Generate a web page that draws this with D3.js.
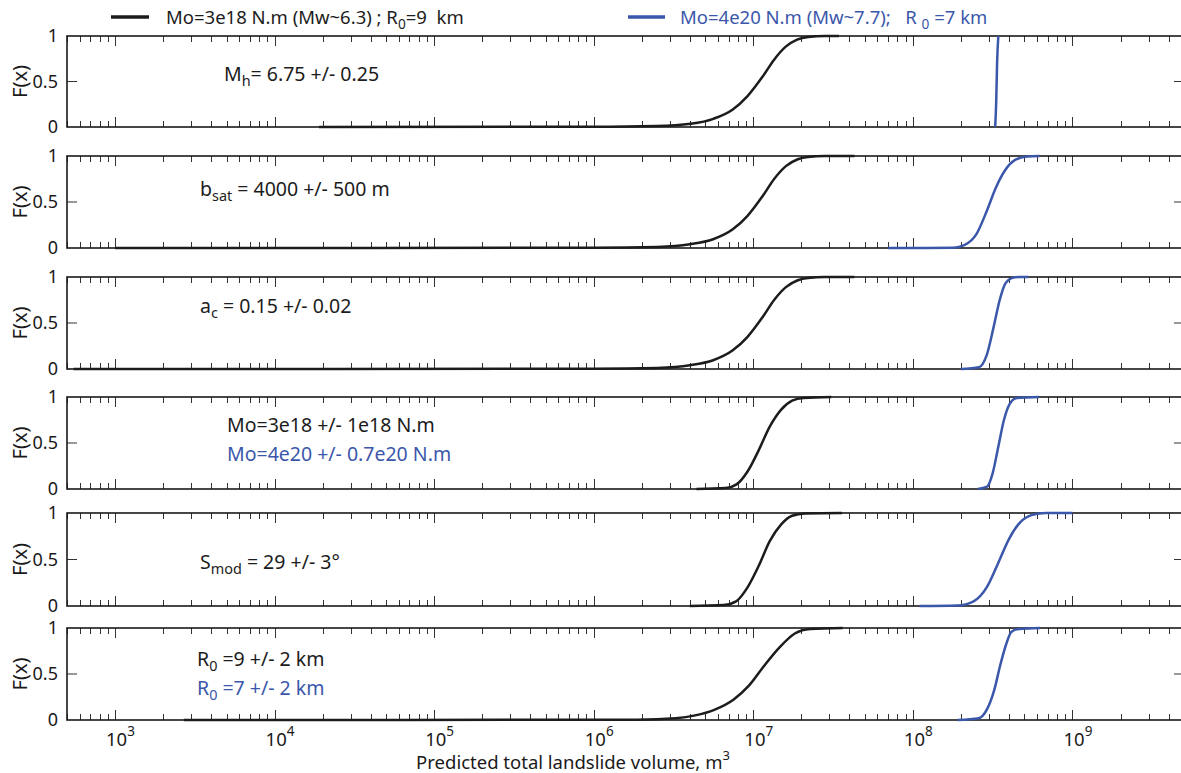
<!DOCTYPE html>
<html>
<head>
<meta charset="utf-8">
<script src="https://cdn.jsdelivr.net/npm/d3@7"></script>
<style>
  body { margin: 0; background: #fff; }
  svg { display: block; }
  text { font-family: "Noto Sans", sans-serif; fill: #1a1a1a; white-space: pre; }
</style>
</head>
<body>
<svg id="chart" width="1181" height="773"></svg>
<script>
// volume (m^3), F(x) pairs, one pair of curves per panel
const black1 = [[1.9e4, 0], [1.0e6, 0.002], [2.47e6, 0.01], [4.05e6, 0.036], [5.62e6, 0.09], [7.4e6, 0.19], [9.2e6, 0.34], [1.15e7, 0.56], [1.35e7, 0.74], [1.59e7, 0.88], [1.88e7, 0.96], [2.21e7, 0.99], [2.8e7, 1], [3.44e7, 1]];
const blue1 = [[3.28e8, 0], [3.33e8, 0.3], [3.37e8, 0.7], [3.43e8, 1]];
const black2 = [[1.0e3, 0], [1.0e6, 0.003], [2.5e6, 0.012], [4.0e6, 0.04], [5.6e6, 0.095], [7.4e6, 0.2], [9.2e6, 0.35], [1.15e7, 0.57], [1.35e7, 0.75], [1.6e7, 0.89], [1.9e7, 0.965], [2.2e7, 0.99], [2.8e7, 1], [4.3e7, 1]];
const blue2 = [[7.0e7, 0], [1.8e8, 0.002], [2.1e8, 0.03], [2.5e8, 0.15], [2.9e8, 0.4], [3.3e8, 0.65], [3.8e8, 0.85], [4.4e8, 0.96], [5.2e8, 0.995], [6.2e8, 1]];
const black3 = [[5.5e2, 0], [1.0e6, 0.003], [2.5e6, 0.012], [4.0e6, 0.04], [5.6e6, 0.095], [7.4e6, 0.2], [9.2e6, 0.35], [1.15e7, 0.57], [1.35e7, 0.75], [1.6e7, 0.89], [1.9e7, 0.965], [2.2e7, 0.99], [2.8e7, 1], [4.3e7, 1]];
const blue3 = [[2.0e8, 0], [2.6e8, 0.02], [2.9e8, 0.15], [3.2e8, 0.45], [3.5e8, 0.75], [3.8e8, 0.93], [4.2e8, 0.99], [4.6e8, 1], [5.3e8, 1]];
const black4 = [[4.4e6, 0], [6.7e6, 0.01], [7.85e6, 0.05], [9.2e6, 0.19], [1.08e7, 0.42], [1.27e7, 0.68], [1.49e7, 0.86], [1.75e7, 0.96], [2.06e7, 0.99], [3.08e7, 1]];
const blue4 = [[2.55e8, 0], [2.92e8, 0.025], [3.16e8, 0.17], [3.43e8, 0.46], [3.72e8, 0.75], [4.03e8, 0.92], [4.48e8, 0.99], [6.18e8, 1]];
const black5 = [[4.0e6, 0], [6.5e6, 0.01], [7.8e6, 0.05], [9.2e6, 0.2], [1.08e7, 0.43], [1.27e7, 0.7], [1.5e7, 0.88], [1.75e7, 0.97], [2.1e7, 0.995], [3.6e7, 1]];
const blue5 = [[1.1e8, 0], [1.9e8, 0.005], [2.4e8, 0.05], [2.9e8, 0.2], [3.4e8, 0.45], [4.0e8, 0.72], [4.7e8, 0.9], [5.6e8, 0.98], [6.8e8, 1], [1.0e9, 1]];
const black6 = [[2.7e3, 0], [1.88e6, 0.004], [3.27e6, 0.02], [4.32e6, 0.05], [5.69e6, 0.11], [7.5e6, 0.22], [9.35e6, 0.37], [1.17e7, 0.59], [1.46e7, 0.79], [1.82e7, 0.94], [2.27e7, 0.99], [3.63e7, 1]];
const blue6 = [[1.91e8, 0], [2.59e8, 0.02], [2.9e8, 0.11], [3.24e8, 0.33], [3.52e8, 0.59], [3.82e8, 0.81], [4.15e8, 0.96], [4.63e8, 0.99], [6.28e8, 1]];

const blackSeries = [black1, black2, black3, black4, black5, black6];
const blueSeries = [blue1, blue2, blue3, blue4, blue5, blue6];

const yTicks = [0, 0.5, 1];
const xTickExps = [3, 4, 5, 6, 7, 8, 9];

// text inside each panel: [series, [[text, isSub], ...]]
const notes = [
  [["black", [["M", 0], ["h", 1], ["= 6.75 +/- 0.25", 0]]]],
  [["black", [["b", 0], ["sat", 1], [" = 4000 +/- 500 m", 0]]]],
  [["black", [["a", 0], ["c", 1], [" = 0.15 +/- 0.02", 0]]]],
  [["black", [["Mo=3e18 +/- 1e18 N.m", 0]]], ["blue", [["Mo=4e20 +/- 0.7e20 N.m", 0]]]],
  [["black", [["S", 0], ["mod", 1], [" = 29 +/- 3°", 0]]]],
  [["black", [["R", 0], ["0", 1], [" =9 +/- 2 km", 0]]], ["blue", [["R", 0], ["0", 1], [" =7 +/- 2 km", 0]]]]
];
const legendItems = [
  ["black", [["Mo=3e18 N.m (Mw~6.3) ; R", 0], ["0", 1], ["=9  km", 0]]],
  ["blue", [["Mo=4e20 N.m (Mw~7.7);   R ", 0], ["0", 1], [" =7 km", 0]]]
];

const colors = { black: "#1c1c1c", blue: "#3b57aa" };
const noteX = [224, 200, 200, 227, 200, 197];
const noteY = [[81], [196], [313], [432, 461], [569], [666, 695]];
const legendX = [[111, 149, 166], [628, 665, 680]];

const svg = d3.select("#chart");
const tops = [36, 156, 277, 397, 513, 628];
const bottoms = [127, 248, 369, 489, 606, 720];

const x = d3.scaleLog().domain([5e2, 5e9]).range([67, 1184]);

const minorVals = [];
for (let e = 2; e <= 9; e++) {
  for (let m = 1; m <= 9; m++) {
    const v = m * Math.pow(10, e);
    if (v >= 5e2 && v <= 5e9) minorVals.push({ v, major: m === 1 });
  }
}

function richText(sel, parts) {
  let sub = false;
  parts.forEach(([t, s]) => {
    const ts = sel.append("tspan").text(t);
    if (s && !sub) { ts.attr("dy", 5).attr("font-size", "0.74em"); sub = true; }
    else if (s) { ts.attr("font-size", "0.74em"); }
    else if (!s && sub) { ts.attr("dy", -5); sub = false; }
  });
}

const line = (y) => d3.line()
  .x(d => x(d[0]))
  .y(d => y(d[1]))
  .curve(d3.curveMonotoneX);

tops.forEach((top, i) => {
  const bottom = bottoms[i];
  const y = d3.scaleLinear().domain([0, 1]).range([bottom, top]);
  const g = svg.append("g");

  // inside ticks on top and bottom edges
  const tg = g.append("g").attr("stroke", "#333").attr("stroke-width", 1);
  minorVals.forEach(d => {
    const len = d.major ? 10 : 6;
    const px = Math.round(x(d.v)) + 0.5;
    tg.append("line").attr("x1", px).attr("x2", px).attr("y1", bottom).attr("y2", bottom - len);
    tg.append("line").attr("x1", px).attr("x2", px).attr("y1", top).attr("y2", top + len);
  });
  tg.append("line").attr("x1", 67).attr("x2", 77).attr("y1", y(0.5)).attr("y2", y(0.5));
  tg.append("line").attr("x1", 1174).attr("x2", 1184).attr("y1", y(0.5)).attr("y2", y(0.5));

  g.append("rect")
    .attr("x", 67).attr("y", top)
    .attr("width", 1184 - 67).attr("height", bottom - top)
    .attr("fill", "none").attr("stroke", "#1a1a1a").attr("stroke-width", 1.6);

  // y tick labels
  g.selectAll(".ylab").data(yTicks).join("text")
    .attr("x", 58).attr("y", d => y(d) + 6)
    .attr("text-anchor", "end").attr("font-size", 18)
    .text(d => d);

  g.append("text")
    .attr("transform", `translate(27,${(top + bottom) / 2}) rotate(-90)`)
    .attr("text-anchor", "middle").attr("font-size", 20)
    .text("F(x)");

  g.append("path").datum(blackSeries[i])
    .attr("d", line(y)).attr("fill", "none")
    .attr("stroke", colors.black).attr("stroke-width", 2.5);
  g.append("path").datum(blueSeries[i])
    .attr("d", line(y)).attr("fill", "none")
    .attr("stroke", colors.blue).attr("stroke-width", 2.5);

  notes[i].forEach(([series, parts], j) => {
    const t = g.append("text").attr("x", noteX[i]).attr("y", noteY[i][j])
      .attr("font-size", 19.5).style("fill", colors[series]);
    richText(t, parts);
  });
});

// x tick labels
const xl = svg.append("g");
xTickExps.forEach(e => {
  const t = xl.append("text").attr("x", x(Math.pow(10, e)) - 9).attr("y", 746)
    .attr("font-size", 18.5);
  t.append("tspan").text("10");
  t.append("tspan").attr("dy", -10).attr("font-size", 13.5).text(e);
});

const xt = svg.append("text").attr("x", 573).attr("y", 769)
  .attr("text-anchor", "middle").attr("font-size", 18.5);
xt.append("tspan").text("Predicted total landslide volume, m");
xt.append("tspan").attr("dy", -9).attr("font-size", 13).text("3");

// legend
legendItems.forEach(([series, parts], i) => {
  const [x1, x2, tx] = legendX[i];
  svg.append("line").attr("x1", x1).attr("x2", x2).attr("y1", 17).attr("y2", 17)
    .attr("stroke", colors[series]).attr("stroke-width", 3.5);
  const t = svg.append("text").attr("x", tx).attr("y", 24)
    .attr("font-size", 18.5).style("fill", colors[series]);
  richText(t, parts);
});
</script>
</body>
</html>
